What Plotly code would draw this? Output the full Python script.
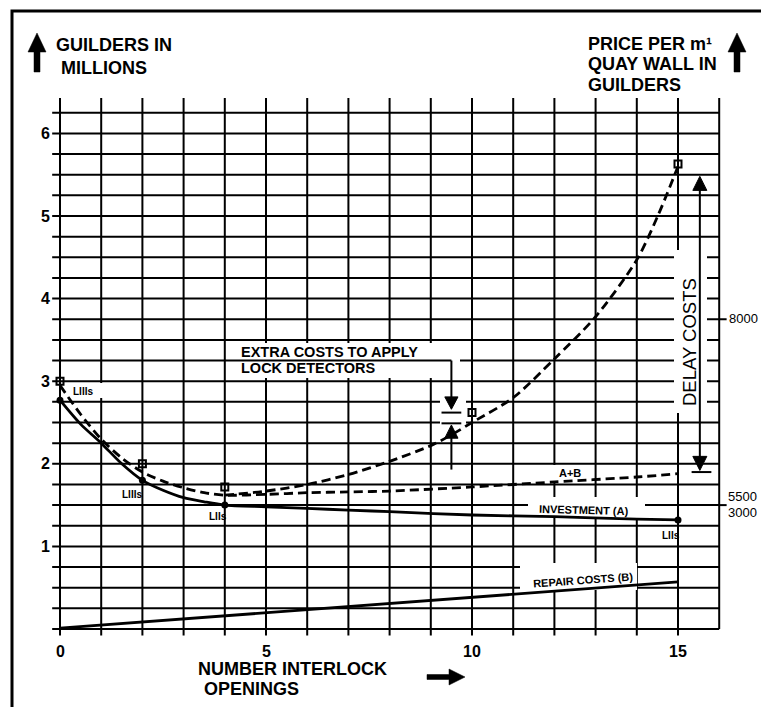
import plotly.graph_objects as go

# ---------------- data ----------------
x_invest = [0, 0.5, 1, 1.5, 2, 2.5, 3, 3.5, 4, 5, 6, 7, 8, 10, 12, 14, 15]
y_invest = [2.77, 2.48, 2.25, 2.0, 1.80, 1.68, 1.59, 1.54, 1.50, 1.48, 1.46, 1.44, 1.42, 1.38, 1.36, 1.33, 1.32]

x_ab = [0, 0.5, 1, 1.5, 2, 2.5, 3, 3.5, 4, 5, 6, 7, 8, 10, 12, 14, 15]
y_ab = [2.95, 2.6, 2.3, 2.07, 1.9, 1.79, 1.71, 1.65, 1.62, 1.63, 1.65, 1.66, 1.67, 1.72, 1.78, 1.84, 1.88]

x_total = [4, 5, 6, 7, 8, 9, 9.5, 10, 11, 12, 13, 14, 14.5, 15]
y_total = [1.62, 1.67, 1.75, 1.87, 2.03, 2.22, 2.35, 2.5, 2.8, 3.27, 3.78, 4.47, 4.99, 5.6]

x_repair = [0, 15]
y_repair = [0.01, 0.57]

x_dots = [0, 2, 4, 15]
y_dots = [2.77, 1.80, 1.50, 1.32]

x_squares = [0, 2, 4, 10, 15]
y_squares = [3.0, 2.0, 1.72, 2.62, 5.63]

x_ticks = [0, 5, 10, 15]
y_ticks = [1, 2, 3, 4, 5, 6]
x_grid = list(range(0, 17))
y_grid = [i * 0.25 for i in range(0, 26)]

right_ticks = [3.75, 1.5]
right_labels_8000 = ["8000"]
right_labels_1_5 = ["5500", "3000"]

extra_x = 9.5
extra_top, extra_bar1, extra_bar2, extra_bottom = 3.25, 2.62, 2.49, 1.93
delay_x, delay_top, delay_bottom = 15.53, 5.48, 1.9

# ---------------- geometry helpers ----------------
W, H = 761, 707
X0PX, XS = 60.0, 41.2
Y0PX, YS = 629.0, 82.6


def dx(px):
    return (px - X0PX) / XS


def dy(py):
    return (Y0PX - py) / YS


def ppx(px):
    return px / W


def ppy(py):
    return 1 - py / H


FONT = "Liberation Sans, Arial, sans-serif"
shapes = []
annotations = []

# grid
for gx in x_grid:
    y_lo = 0 if gx == 16 else -0.08
    shapes.append(dict(type="line", x0=gx, x1=gx, y0=y_lo, y1=6.43,
                       line=dict(color="black", width=2), layer="below"))
for gy in y_grid:
    shapes.append(dict(type="line", x0=-0.19, x1=16, y0=gy, y1=gy,
                       line=dict(color="black", width=2), layer="below"))
for ry in right_ticks:
    shapes.append(dict(type="line", x0=16, x1=16.18, y0=ry, y1=ry,
                       line=dict(color="black", width=2), layer="below"))


def white_box(px0, py0, px1, py1):
    shapes.append(dict(type="rect", x0=dx(px0), x1=dx(px1), y0=dy(py1), y1=dy(py0),
                       fillcolor="white", line=dict(width=0), layer="below"))


white_box(63, 383, 105, 398)      # LIIIs top
white_box(235, 343, 460, 378)     # extra costs text
white_box(440, 395, 466, 440)     # extra cost bars
white_box(528, 497, 645, 518)     # investment label
white_box(553, 465, 586, 482)     # A+B label
white_box(520, 563, 637, 590)     # repair label
white_box(674, 250, 707, 413)     # delay costs text

# extra cost leader and arrows (data coords)
shapes.append(dict(type="line", x0=dx(235), x1=extra_x, y0=extra_top, y1=extra_top,
                   line=dict(color="black", width=2)))
shapes.append(dict(type="line", x0=extra_x, x1=extra_x, y0=extra_top, y1=extra_bar1 + 0.18,
                   line=dict(color="black", width=2)))
shapes.append(dict(type="line", x0=extra_x, x1=extra_x, y0=extra_bar2 - 0.17, y1=extra_bottom,
                   line=dict(color="black", width=2)))
for by in (extra_bar1, extra_bar2):
    shapes.append(dict(type="line", x0=extra_x - 0.24, x1=extra_x + 0.24, y0=by, y1=by,
                       line=dict(color="black", width=2)))


def tri(xc, y_tip, y_base, half_w):
    return dict(type="path",
                path=f"M {xc},{y_tip} L {xc + half_w},{y_base} L {xc - half_w},{y_base} Z",
                fillcolor="black", line=dict(color="black", width=1))


shapes.append(tri(extra_x, extra_bar1 + 0.04, extra_bar1 + 0.19, 0.16))
shapes.append(tri(extra_x, extra_bar2 - 0.02, extra_bar2 - 0.18, 0.16))

# delay costs double arrow
shapes.append(dict(type="line", x0=delay_x, x1=delay_x, y0=delay_bottom + 0.05, y1=delay_top - 0.05,
                   line=dict(color="black", width=2)))
shapes.append(tri(delay_x, delay_top, delay_top - 0.17, 0.17))
shapes.append(tri(delay_x, delay_bottom + 0.02, delay_bottom + 0.19, 0.17))
shapes.append(dict(type="line", x0=delay_x - 0.2, x1=delay_x + 0.28, y0=delay_bottom, y1=delay_bottom,
                   line=dict(color="black", width=2)))


# big arrows (paper coords from pixels)
def poly(points):
    d = "M " + " L ".join(f"{ppx(a)},{ppy(b)}" for a, b in points) + " Z"
    return dict(type="path", xref="paper", yref="paper", path=d,
                fillcolor="black", line=dict(color="black", width=0.5))


def up_arrow(cx):
    return poly([(cx, 33), (cx + 9, 52), (cx + 3, 52), (cx + 3, 72),
                 (cx - 3, 72), (cx - 3, 52), (cx - 9, 52)])


shapes.append(up_arrow(37))
shapes.append(up_arrow(737))
shapes.append(poly([(465, 677), (449, 669), (449, 674.5), (427, 674.5),
                    (427, 679.5), (449, 679.5), (449, 685)]))

# outer frame
shapes.append(dict(type="rect", xref="paper", yref="paper",
                   x0=ppx(12), x1=ppx(790), y0=ppy(740), y1=ppy(11),
                   line=dict(color="black", width=3)))


# ---------------- annotations ----------------
def ann(text, px, py, size, xanchor="left", bold=True, angle=0):
    annotations.append(dict(
        text=f"<b>{text}</b>" if bold else text,
        x=ppx(px), y=ppy(py), xref="paper", yref="paper",
        xanchor=xanchor, yanchor="middle", showarrow=False, textangle=angle,
        font=dict(family=FONT, size=size, color="black")))


ann("GUILDERS IN", 54, 45, 18)
ann("MILLIONS", 59, 68, 18)
ann("PRICE PER m¹", 586, 44, 18)
ann("QUAY WALL IN", 586, 64.5, 18)
ann("GUILDERS", 586, 85, 18)

for t in y_ticks:
    annotations.append(dict(text=f"<b>{t}</b>", x=-0.2, y=t, xref="x", yref="y",
                            xanchor="right", yanchor="middle", showarrow=False,
                            font=dict(family=FONT, size=16, color="black")))
for t in x_ticks:
    annotations.append(dict(text=f"<b>{t}</b>", x=t, y=dy(651), xref="x", yref="y",
                            xanchor="center", yanchor="middle", showarrow=False,
                            font=dict(family=FONT, size=16, color="black")))

ann("NUMBER INTERLOCK", 196, 669, 18)
ann("OPENINGS", 202, 689, 18)

ann(right_labels_8000[0], 727, 318, 13, bold=False)
ann(right_labels_1_5[0], 726, 497, 13, bold=False)
ann(right_labels_1_5[1], 726, 512, 13, bold=False)

ann("EXTRA COSTS TO APPLY", 239, 352, 14.5)
ann("LOCK DETECTORS", 239, 368, 14.5)

annotations.append(dict(text="DELAY COSTS", x=dx(689), y=dy(342), xref="x", yref="y",
                        xanchor="center", yanchor="middle", showarrow=False, textangle=-90,
                        font=dict(family=FONT, size=18.5, color="black")))

ann("INVESTMENT (A)", 584, 510, 11, xanchor="center", angle=1.5)
ann("REPAIR COSTS (B)", 583, 580, 11, xanchor="center", angle=-4)
ann("A+B", 570, 473, 11, xanchor="center")
ann("LIIIs", 83, 391, 10, xanchor="center")
ann("LIIIs", 132, 494, 10, xanchor="center")
ann("LIIs", 218, 516, 10, xanchor="center")
ann("LIIs", 671, 535, 10, xanchor="center")

# ---------------- traces ----------------
fig = go.Figure()
fig.add_trace(go.Scatter(x=x_repair, y=y_repair, mode="lines",
                         line=dict(color="black", width=2.8)))
fig.add_trace(go.Scatter(x=x_invest, y=y_invest, mode="lines",
                         line=dict(color="black", width=2.8, shape="spline", smoothing=0.8)))
fig.add_trace(go.Scatter(x=x_ab, y=y_ab, mode="lines",
                         line=dict(color="black", width=2.8, dash="9px,5px", shape="spline", smoothing=0.8)))
fig.add_trace(go.Scatter(x=x_total, y=y_total, mode="lines",
                         line=dict(color="black", width=2.8, dash="9px,5px", shape="spline", smoothing=0.8)))
fig.add_trace(go.Scatter(x=x_dots, y=y_dots, mode="markers",
                         marker=dict(color="black", size=7, symbol="circle")))
fig.add_trace(go.Scatter(x=x_squares, y=y_squares, mode="markers",
                         marker=dict(color="black", size=7, symbol="square-open", line=dict(width=2))))

fig.update_layout(
    width=W, height=H, margin=dict(l=0, r=0, t=0, b=0),
    paper_bgcolor="white", plot_bgcolor="white", showlegend=False,
    xaxis=dict(range=[dx(0), dx(W)], visible=False, fixedrange=True),
    yaxis=dict(range=[dy(H), dy(0)], visible=False, fixedrange=True),
    shapes=shapes, annotations=annotations,
)
fig.write_html(
    "out.html",
    config={"displayModeBar": False},
    post_script="document.body.style.margin='0';document.body.style.overflow='hidden';",
)
